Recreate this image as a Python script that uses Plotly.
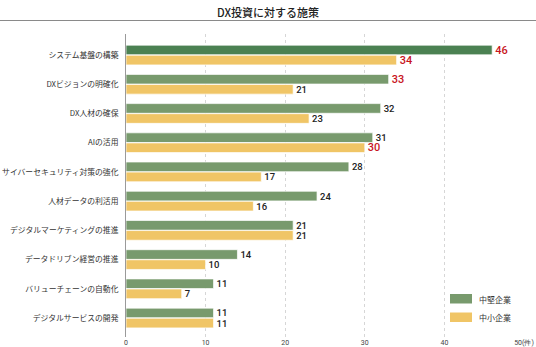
import plotly.graph_objects as go

categories = ["システム基盤の構築", "DXビジョンの明確化", "DX人材の確保", "AIの活用",
              "サイバーセキュリティ対策の強化", "人材データの利活用", "デジタルマーケティングの推進",
              "データドリブン経営の推進", "バリューチェーンの自動化", "デジタルサービスの開発"]
mid_values = [46, 33, 32, 31, 28, 24, 21, 14, 11, 11]
small_values = [34, 21, 23, 30, 17, 16, 21, 10, 7, 11]
mid_highlight = [True, True, False, False, False, False, False, False, False, False]
small_highlight = [True, False, False, True, False, False, False, False, False, False]
series_names = ["中堅企業", "中小企業"]
x_ticks = [0, 10, 20, 30, 40, 50]
x_tick_labels = ["0", "10", "20", "30", "40", "50(件)"]

W, H = 536, 347
ML, MR, MT, MB = 126, 12, 34, 10
PW, PH = W - ML - MR, H - MT - MB

GREEN = "#789a6d"
GREEN_DARK = "#4b8152"
YELLOW = "#f0c566"
RED = "#c8161d"
DARK = "#222222"

idx = list(range(len(categories)))
JP = "Noto Sans CJK JP"
NUM = "Roboto"

def px_to_paper_x(px):
    return (px - ML) / PW

def px_to_paper_y(py):
    return (H - MB - py) / PH

fig = go.Figure()
fig.add_trace(go.Bar(
    y=idx, x=mid_values, orientation="h", name=series_names[0],
    marker=dict(color=[GREEN_DARK if i == 0 else GREEN for i in idx],
                line=dict(color="rgba(255,255,255,0.7)", width=1)),
    text=[str(v) for v in mid_values], textposition="outside", cliponaxis=False,
    constraintext="none",
    textfont=dict(family=NUM, color=[RED if h else DARK for h in mid_highlight],
                  size=[11 if h else 9.5 for h in mid_highlight], weight=500),
    hoverinfo="skip", showlegend=False,
))
fig.add_trace(go.Bar(
    y=idx, x=small_values, orientation="h", name=series_names[1],
    marker=dict(color=YELLOW, line=dict(color="rgba(255,255,255,0.7)", width=1)),
    text=[str(v) for v in small_values], textposition="outside", cliponaxis=False,
    constraintext="none",
    textfont=dict(family=NUM, color=[RED if h else DARK for h in small_highlight],
                  size=[11 if h else 9.5 for h in small_highlight], weight=500),
    hoverinfo="skip", showlegend=False,
))

shapes = [
    dict(type="line", xref="paper", yref="paper",
         x0=px_to_paper_x(0), x1=px_to_paper_x(W), y0=px_to_paper_y(20.5), y1=px_to_paper_y(20.5),
         line=dict(color="#8a8a8a", width=1)),
    dict(type="rect", xref="paper", yref="paper",
         x0=px_to_paper_x(450), x1=px_to_paper_x(472), y0=px_to_paper_y(294), y1=px_to_paper_y(303.5),
         fillcolor=GREEN, line=dict(width=0)),
    dict(type="rect", xref="paper", yref="paper",
         x0=px_to_paper_x(450), x1=px_to_paper_x(472), y0=px_to_paper_y(312.5), y1=px_to_paper_y(322),
         fillcolor=YELLOW, line=dict(width=0)),
]
annotations = [
    dict(text="DX投資に対する施策", xref="paper", yref="paper",
         x=px_to_paper_x(W / 2), y=px_to_paper_y(12), xanchor="center", yanchor="middle",
         showarrow=False, font=dict(family=JP, size=11, color="#222", weight=500)),
    dict(text=series_names[0], xref="paper", yref="paper",
         x=px_to_paper_x(477), y=px_to_paper_y(299), xanchor="left", yanchor="middle",
         showarrow=False, font=dict(family=JP, size=8, color="#333")),
    dict(text=series_names[1], xref="paper", yref="paper",
         x=px_to_paper_x(477), y=px_to_paper_y(317.5), xanchor="left", yanchor="middle",
         showarrow=False, font=dict(family=JP, size=8, color="#333")),
]

fig.update_layout(
    width=W, height=H, margin=dict(l=ML, r=MR, t=MT, b=MB, autoexpand=False),
    paper_bgcolor="white", plot_bgcolor="white",
    barmode="group", bargap=0.31, bargroupgap=0.04,
    shapes=shapes, annotations=annotations,
    xaxis=dict(range=[0, 50], tickvals=x_ticks, ticktext=x_tick_labels, automargin=False,
               showgrid=True, gridcolor="#d6d6d6", griddash="dot", gridwidth=1,
               zeroline=False, showline=False, ticks="", ticklen=0,
               tickfont=dict(family=NUM, size=7, color="#444")),
    yaxis=dict(range=[9.65, -0.72], tickvals=idx, ticktext=categories, automargin=False,
               showgrid=False, zeroline=False, showline=True, linecolor="#9a9a9a", linewidth=1,
               ticks="", ticklabelstandoff=5,
               tickfont=dict(family=JP, size=7.8, color="#333")),
    font=dict(family=JP),
)

fig.write_html("out.html")
